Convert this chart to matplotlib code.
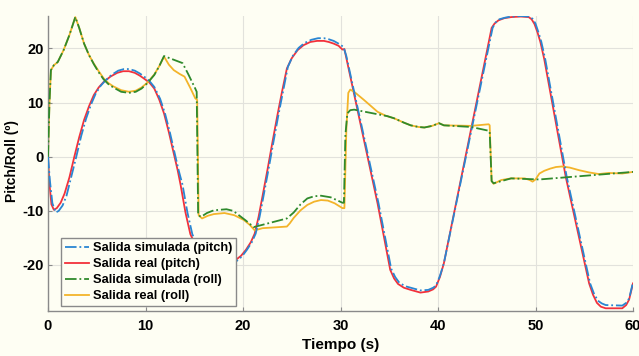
import matplotlib
matplotlib.use("Agg")
import matplotlib.pyplot as plt

plt.rcParams['font.family'] = ['Liberation Sans', 'DejaVu Sans']
plt.rcParams['axes.unicode_minus'] = False

# ---- data ----
t_pitch_real = [0, 0.15, 0.35, 0.6, 0.9, 1.3, 1.7, 2.2, 2.7, 3.2, 3.7, 4.2, 4.7, 5.2, 5.7,
                6.4, 7.1, 7.7, 8.3, 8.9, 9.4, 9.8, 10.4, 10.9, 11.4, 11.9, 12.4, 12.9, 13.3,
                13.6, 14.1, 14.6, 15.2, 16.0, 17.0, 18.0, 18.8, 19.3, 19.8, 20.3, 20.8, 21.2,
                21.6, 22.0, 22.5, 23.0, 23.5, 24.0, 24.5, 25.0, 25.6, 26.2, 26.9, 27.6, 28.3,
                28.8, 29.3, 29.8, 30.2, 30.4, 33.8, 35.1, 35.5, 35.9, 36.5, 37.2, 38.2, 39.0,
                39.5, 39.8, 40.2, 40.6, 45.5, 45.8, 46.2, 46.8, 47.5, 48.5, 49.3, 49.6, 49.9,
                50.2, 50.5, 50.9, 53.1, 55.5, 55.9, 56.3, 56.7, 57.2, 58.9, 59.3, 59.6, 60]
y_pitch_real = [0, -5.0, -8.8, -9.8, -9.5, -8.5, -6.8, -3.8, 0, 3.6, 6.8, 9.3, 11.4, 12.8, 13.8,
                14.8, 15.5, 15.8, 15.8, 15.5, 15.0, 14.5, 13.7, 12.6, 10.6, 8.0, 4.5, 0.6, -2.5,
                -5.2, -10.3, -14.3, -16.6, -18.0, -18.9, -19.4, -19.4, -19.0, -18.3, -17.2,
                -15.8, -14.2, -11.1, -7.3, -2.5, 2.5, 7.4, 12.0, 16.3, 18.2, 19.7, 20.6, 21.2,
                21.4, 21.4, 21.2, 20.9, 20.5, 19.8, 19.9, -8.6, -20.9, -22.5, -23.5, -24.2,
                -24.6, -25.1, -24.9, -24.5, -24.0, -22.2, -19.7, 23.8, 24.6, 25.2, 25.6, 25.8,
                25.9, 25.8, 25.4, 24.5, 23.0, 21.2, 18.0, -3.7, -23.4, -25.5, -27.0, -27.7,
                -28.0, -28.0, -27.4, -26.4, -23.4]

t_pitch_sim = [0, 0.2, 0.45, 0.8, 1.1, 1.5, 1.9, 2.4, 2.9, 3.4, 3.9, 4.4, 4.9, 5.4, 5.9,
               6.5, 7.2, 7.8, 8.3, 8.9, 9.4, 9.8, 10.4, 10.9, 11.5, 12.0, 12.5, 13.0, 13.4,
               13.8, 14.3, 14.8, 15.4, 16.2, 17.2, 18.2, 18.9, 19.4, 19.9, 20.4, 20.9, 21.3,
               21.7, 22.1, 22.6, 23.1, 23.6, 24.1, 24.6, 25.1, 25.7, 26.3, 27.0, 27.7, 28.3,
               28.8, 29.3, 29.8, 30.3, 30.6, 33.9, 35.2, 35.6, 36.0, 36.6, 37.2, 38.2, 39.0,
               39.5, 39.8, 40.2, 40.6, 45.6, 45.9, 46.3, 46.9, 47.5, 48.5, 49.3, 49.7, 50.0,
               50.3, 50.6, 51.0, 53.2, 55.6, 56.0, 56.4, 56.8, 57.2, 58.9, 59.3, 59.6, 60]
y_pitch_sim = [0, -4.5, -8.6, -10.3, -10.0, -9.0, -7.2, -3.6, 0, 3.8, 7.0, 9.6, 11.7, 13.1, 14.1,
               15.1, 15.9, 16.2, 16.2, 15.9, 15.4, 14.9, 14.0, 12.9, 10.7, 8.0, 4.5, 0.6, -2.5,
               -5.2, -10.3, -14.3, -16.8, -18.2, -19.1, -19.6, -19.6, -19.2, -18.4, -17.2,
               -15.8, -14.2, -11.1, -7.3, -2.5, 2.5, 7.4, 12.0, 16.6, 18.6, 20.1, 21.0, 21.6,
               21.9, 21.9, 21.7, 21.4, 20.9, 20.3, 18.6, -8.6, -20.7, -22.2, -23.2, -23.9,
               -24.2, -24.7, -24.6, -24.2, -23.8, -22.0, -19.7, 23.8, 24.8, 25.4, 25.7, 25.9,
               26.0, 25.9, 25.5, 24.6, 23.0, 21.2, 18.0, -3.7, -23.4, -25.3, -26.6, -27.1,
               -27.4, -27.5, -27.0, -26.2, -23.2]

t_roll_real = [0, 0.15, 0.3, 0.6, 1.0, 1.6, 2.2, 2.8, 3.2, 3.7, 4.2, 4.7, 5.2, 5.7, 6.2, 6.7,
               7.5, 8.3, 9.0, 9.6, 10.2, 10.9, 11.4, 11.9, 12.4, 12.9, 13.5, 14.0, 14.6, 15.1,
               15.3, 15.45, 15.8, 16.4, 17.0, 18.1, 19.1, 20.1, 20.7, 21.2, 21.6, 22.0, 24.5,
               24.8, 25.2, 25.9, 26.6, 27.3, 28.0, 28.7, 29.4, 30.2, 30.4, 30.6, 30.8, 31.0,
               31.4, 32.4, 33.8, 34.6, 35.5, 36.5, 37.2, 38.0, 38.6, 39.4, 40.1, 40.6, 43.4,
               45.2, 45.3, 45.5, 45.7, 46.5, 47.5, 48.9, 49.4, 49.7, 50.0, 50.4, 50.9, 51.5,
               52.1, 52.7, 53.5, 54.5, 55.5, 56.5, 57.5, 58.9, 60]
y_roll_real = [0, 10, 16, 16.9, 17.5, 19.7, 22.5, 25.8, 23.8, 20.9, 18.8, 17.2, 15.8, 14.5,
               13.6, 13.0, 12.3, 12.0, 12.2, 12.8, 13.7, 15.2, 16.7, 18.5, 17.0, 16.0, 15.3,
               14.8, 12.7, 10.8, 10.5, -10.8, -11.4, -10.9, -10.6, -10.4, -10.8, -11.7, -12.6,
               -13.6, -13.4, -13.2, -12.9, -12.3, -11.3, -9.9, -8.9, -8.3, -8.0, -8.1, -8.6,
               -9.5, -9.5, 5, 11.8, 12.4, 12.0, 10.5, 8.3, 7.6, 7.1, 6.3, 5.8, 5.5, 5.4, 5.7,
               6.2, 5.8, 5.7, 6.0, 5.8, -4.5, -5.0, -4.3, -4.0, -4.0, -4.3, -4.6, -4.2, -3.1,
               -2.6, -2.2, -1.9, -1.8, -2.0, -2.5, -2.9, -3.2, -3.0, -3.1, -2.8]

t_roll_sim = [0, 0.15, 0.3, 0.6, 1.0, 1.6, 2.2, 2.8, 3.2, 3.7, 4.2, 4.7, 5.2, 5.7, 6.2, 6.7,
              7.5, 8.3, 9.0, 9.6, 10.2, 10.9, 11.4, 11.9, 13.8, 14.4, 15.1, 15.25, 15.4, 15.7,
              16.3, 17.0, 18.3, 19.0, 19.5, 20.3, 21.1, 24.5, 25.2, 25.9, 26.6, 27.3, 28.0,
              29.0, 30.2, 30.35, 30.5, 30.7, 31.0, 31.4, 34.8, 35.5, 36.5, 37.2, 38.0, 38.6,
              39.4, 40.1, 40.6, 43.4, 45.2, 45.3, 45.5, 45.7, 47.5, 48.9, 50.4, 60]
y_roll_sim = [0, 10, 16, 16.9, 17.5, 19.7, 22.5, 25.8, 23.8, 20.9, 18.8, 17.1, 15.6, 14.3,
              13.4, 12.8, 12.0, 11.8, 12.0, 12.6, 13.6, 15.1, 16.7, 18.6, 17.3, 15.2, 12.6,
              12.0, -10.8, -11.1, -10.4, -9.9, -9.7, -10.0, -10.7, -11.8, -13.0, -11.4, -10.3,
              -8.8, -7.7, -7.3, -7.2, -7.5, -8.5, -8.5, 4.0, 8.0, 8.6, 8.7, 7.5, 7.1, 6.3,
              5.8, 5.5, 5.4, 5.7, 6.2, 5.8, 5.5, 4.8, 4.6, -4.5, -4.9, -4.0, -4.1, -4.2, -2.8]

labels = ['Salida simulada (pitch)', 'Salida real (pitch)',
          'Salida simulada (roll)', 'Salida real (roll)']
x_ticks = [0, 10, 20, 30, 40, 50, 60]
y_ticks = [-20, -10, 0, 10, 20]

# ---- figure ----
bg = '#fefef3'
fig = plt.figure(figsize=(6.39, 3.56), dpi=100, facecolor=bg)
ax = fig.add_axes([48/639, 1-311/356, 585/639, 295/356], facecolor=bg)

ax.plot(t_pitch_sim, y_pitch_sim, color='#2a86d2', lw=1.3, ls='-.', label=labels[0], zorder=3)
ax.plot(t_pitch_real, y_pitch_real, color='#f2313b', lw=1.3, ls='-', label=labels[1], zorder=2)
ax.plot(t_roll_sim, y_roll_sim, color='#2f8a2c', lw=1.3, ls='-.', label=labels[2], zorder=3)
ax.plot(t_roll_real, y_roll_real, color='#f3b42a', lw=1.3, ls='-', label=labels[3], zorder=2)

ax.set_xlim(0, 60)
ax.set_ylim(-28.5, 26.0)
ax.set_xticks(x_ticks)
ax.set_yticks(y_ticks)
ax.grid(True, color='#e2e2dc', lw=0.8)
ax.set_axisbelow(True)
for s in ['top', 'right']:
    ax.spines[s].set_visible(False)
for s in ['left', 'bottom']:
    ax.spines[s].set_color('#8a8a8a')
    ax.spines[s].set_linewidth(1.0)
ax.tick_params(direction='in', length=3, color='#8a8a8a', labelsize=10.5)
ax.tick_params(axis='y', pad=3)
ax.tick_params(axis='x', pad=6)
for lab in ax.get_xticklabels() + ax.get_yticklabels():
    lab.set_fontweight('bold')

ax.set_xlabel('Tiempo (s)', fontsize=11, fontweight='bold', labelpad=3)
ax.set_ylabel('Pitch/Roll (º)', fontsize=10, fontweight='bold')
ax.yaxis.set_label_coords(-0.05, 0.51)

leg = ax.legend(loc='lower left', bbox_to_anchor=(0.022, 0.017), borderaxespad=0,
                fancybox=False, framealpha=1, facecolor=bg, edgecolor='#8a8a8a',
                prop={'weight': 'bold', 'size': 9.3}, handlelength=1.9,
                handletextpad=0.3, labelspacing=0.3, borderpad=0.3)
leg.get_frame().set_linewidth(1.0)
leg.set_zorder(5)

fig.savefig('out.png', dpi=100, facecolor=bg)
